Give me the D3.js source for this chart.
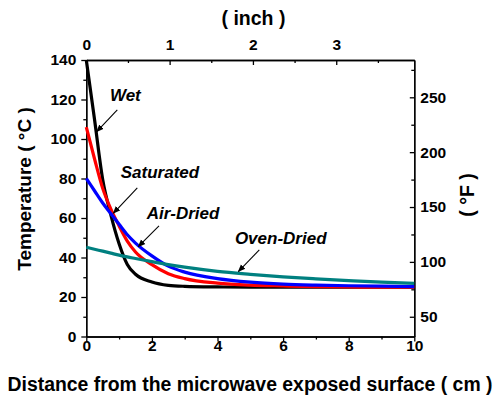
<!DOCTYPE html>
<html lang="en">
<head>
<meta charset="utf-8">
<title>Temperature vs Distance</title>
<script src="https://d3js.org/d3.v7.min.js"></script>
<style>
        body {
            margin: 0;
            background: #fff;
        }
        text {
            font-family: "Liberation Sans", Arial, sans-serif;
            font-weight: bold;
            fill: #000;
        }
        .axis path,
        .axis line {
            fill: none;
            stroke: #000;
            stroke-width: 1.3px;
        }
        .curve {
            fill: none;
            stroke-width: 3.2px;
        }
</style>
</head>
<body>
<div id="chart"></div>
<script>

// ---- data ----
var distCm    = [0, 0.25, 0.5, 0.75, 1, 1.25, 1.5, 2, 2.5, 3, 4, 5, 6, 7, 8, 9, 10];
var wet       = [140, 110, 79.5, 61.5, 47, 36.5, 31.5, 27.6, 25.9, 25.4, 25.1, 25, 25, 25, 25, 25, 25];
var saturated = [106, 90, 75, 64.5, 56, 48.3, 42.8, 36.4, 31.8, 29.3, 27, 26, 25.6, 25.3, 25.1, 25, 25];
var airDried  = [80, 73.8, 67.6, 62.2, 56.8, 51.5, 47.3, 40.8, 35.6, 32.6, 29.3, 27.5, 26.5, 26, 25.7, 25.5, 25.3];
var ovenDried = [45.2, 44.2, 43.2, 42.2, 41.2, 40.3, 39.5, 37.9, 36.4, 35.1, 33, 31.5, 30.2, 29.2, 28.3, 27.5, 26.9];

var seriesNames  = ["Wet", "Saturated", "Air-Dried", "Oven-Dried"];
var seriesValues = [wet, saturated, airDried, ovenDried];
var seriesColors = ["#000000", "#ff0000", "#0000ff", "#008080"];

var cmTicks     = [0, 2, 4, 6, 8, 10];
var cmMinor     = [1, 3, 5, 7, 9];
var tempTicks   = [0, 20, 40, 60, 80, 100, 120, 140];
var tempMinor   = [10, 30, 50, 70, 90, 110, 130];
var inchTicks   = [0, 1, 2, 3];
var inchMinor   = [0.5, 1.5, 2.5, 3.5];
var fTicks      = [50, 100, 150, 200, 250];
var fMinor      = [75, 125, 175, 225, 275];

// label text position (cm, degC) and arrow from -> to
var notes = [
  {name: "Wet",        lx: 0.72, ly: 119.1, ax1: 0.945, ay1: 114.7, ax2: 0.318, ay2: 103.7},
  {name: "Saturated",  lx: 1.05, ly: 80.4,  ax1: 1.555, ay1: 75.3,  ax2: 0.824, ay2: 62.4},
  {name: "Air-Dried",  lx: 1.84, ly: 59.3,  ax1: 2.216, ay1: 56.0,  ax2: 1.585, ay2: 45.5},
  {name: "Oven-Dried", lx: 4.53, ly: 46.7,  ax1: 5.275, ay1: 43.9,  ax2: 4.635, ay2: 32.9}
];

// set the dimensions and margins of the graph
var margin = {top: 60, right: 86.7, bottom: 64.5, left: 86.3},
    width = 501 - margin.left - margin.right,
    height = 401 - margin.top - margin.bottom;

var canvas = d3.select("#chart")
  .append("svg")
    .attr("width", 501)
    .attr("height", 401);
var svg = canvas.append("g")
    .attr("transform", "translate(" + margin.left + "," + margin.top + ")");

// scales
var x = d3.scaleLinear().domain([0, 10]).range([0, width]);
var xInch = d3.scaleLinear().domain([0, 10 / 2.54]).range([0, width]);
var y = d3.scaleLinear().domain([0, 140]).range([height, 0]);
var yF = d3.scaleLinear().domain([32, 140 * 1.8 + 32]).range([height, 0]);

var fmt = d3.format("d");

// helper: draw one axis and make its labels big and bold
function addAxis(axis, tx, ty) {
  var g = svg.append("g").attr("class", "axis")
    .attr("transform", "translate(" + tx + "," + ty + ")")
    .call(axis);
  g.selectAll("text")
    .style("font-size", "15.5px")
    .style("font-family", "'Liberation Sans', Arial, sans-serif")
    .style("font-weight", "bold");
  return g;
}

// bottom axis
addAxis(d3.axisBottom(x).tickValues(cmTicks).tickFormat(fmt).tickSize(5).tickPadding(-1.5).tickSizeOuter(0), 0, height);
addAxis(d3.axisBottom(x).tickValues(cmMinor).tickSize(3).tickFormat("").tickSizeOuter(0), 0, height);

// left axis
addAxis(d3.axisLeft(y).tickValues(tempTicks).tickFormat(fmt).tickSize(5).tickPadding(5).tickSizeOuter(0), 0, 0);
addAxis(d3.axisLeft(y).tickValues(tempMinor).tickSize(3).tickFormat("").tickSizeOuter(0), 0, 0);

// top axis (inch), ticks inward
addAxis(d3.axisTop(xInch).tickValues(inchTicks).tickFormat(fmt).tickSize(-5).tickPadding(10).tickSizeOuter(0), 0, 0);
addAxis(d3.axisTop(xInch).tickValues(inchMinor).tickSize(-3).tickFormat("").tickSizeOuter(0), 0, 0);

// right axis (F), ticks inward
addAxis(d3.axisRight(yF).tickValues(fTicks).tickFormat(fmt).tickSize(-4.5).tickPadding(6).tickSizeOuter(0), width, 0);
addAxis(d3.axisRight(yF).tickValues(fMinor).tickSize(-3).tickFormat("").tickSizeOuter(0), width, 0);

// the curves
var line = d3.line()
  .x(function(d) { return x(d[0]); })
  .y(function(d) { return y(d[1]); })
  .curve(d3.curveMonotoneX);

seriesValues.forEach(function(vals, i) {
  svg.append("path")
    .datum(distCm.map(function(c, j) { return [c, vals[j]]; }))
    .attr("class", "curve")
    .attr("stroke", seriesColors[i])
    .attr("d", line);
});

// arrow head
canvas.append("defs").append("marker")
    .attr("id", "head")
    .attr("viewBox", "0 0 10 10")
    .attr("refX", 9).attr("refY", 5)
    .attr("markerWidth", 7).attr("markerHeight", 7)
    .attr("orient", "auto")
  .append("path")
    .attr("d", "M0,1 L10,5 L0,9 z")
    .attr("fill", "#000");

// labels with arrows
notes.forEach(function(n) {
  svg.append("text")
    .attr("x", x(n.lx))
    .attr("y", y(n.ly))
    .style("font-size", "17px")
    .style("font-style", "italic")
    .text(n.name);
  svg.append("line")
    .attr("x1", x(n.ax1)).attr("y1", y(n.ay1))
    .attr("x2", x(n.ax2)).attr("y2", y(n.ay2))
    .attr("stroke", "#000")
    .attr("stroke-width", 1.1)
    .attr("marker-end", "url(#head)");
});

// axis titles
canvas.append("text")
  .attr("x", 250).attr("y", 391)
  .style("text-anchor", "middle")
  .style("font-size", "19.4px")
  .text("Distance from the microwave exposed surface ( cm )");

canvas.append("text")
  .attr("transform", "translate(31,189) rotate(-90)")
  .style("text-anchor", "middle")
  .style("font-size", "19px")
  .text("Temperature ( °C )");

canvas.append("text")
  .attr("transform", "translate(474,195) rotate(-90)")
  .style("text-anchor", "middle")
  .style("font-size", "19.5px")
  .text("( °F )");

canvas.append("text")
  .attr("x", 253.5).attr("y", 25)
  .style("text-anchor", "middle")
  .style("font-size", "19.5px")
  .text("( inch )");

</script>
</body>
</html>
